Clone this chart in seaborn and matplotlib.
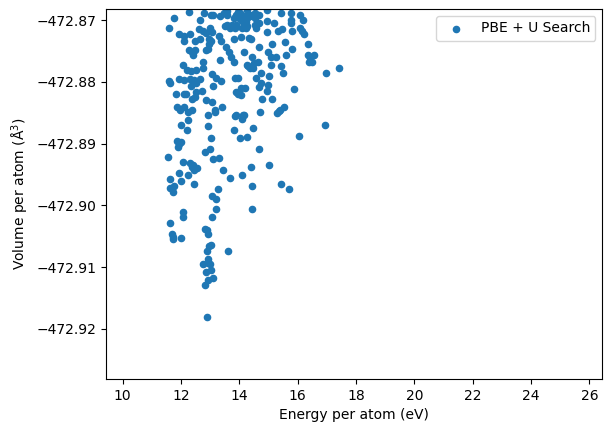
import matplotlib
matplotlib.use("Agg")
import matplotlib.pyplot as plt
import pandas as pd
import seaborn as sns

energy = [12.89,12.82,12.92,13.09,12.85,13.02,12.76,12.99,12.92,12.92,12.89,13.02,12.96,13.61,12.92,12.89,12.82,11.62,11.70,11.72,11.71,12.0,12.07,12.07,13.06,
13.2,14.43,14.43,13.20,13.06,13.26,13.67,14.09,14.39,13.43,13.30,13.09,12.99,12.82,14.67,12.44,12.0,11.62,11.93,11.62,11.76,11.72,11.69,12.24,12.07,12.30,12.37,12.44,12.56,12.40,11.55,11.89,11.86,12.0,11.93,12.20,12.0,12.24,12.92,13.02,12.92,13.16,13.81,13.84,14.12,14.09,14.46,14.02,14.26,
16.93,16.04,15.01,15.42,15.70,15.28,15.35,
17.43,16.96,15.52,15.39,14.70,15.87,15.11,14.77,14.94,14.98,14.74,14.67,15.01,14.56,14.74,15.49,15.42,15.08,14.50,14.26,14.36,14.46,14.63,14.43,15.08,15.25,15.59,14.98,14.67,14.15,15.80,15.56,15.11,16.35,16.35,16.55,16.38,16.48,16.41,16.21,16.14,16.07,15.80,15.46,15.32,14.94,14.39,14.05,14.22,14.56,14.67,14.94,15.18,15.76,16.17,16.07,15.76,15.76,15.42,14.94,14.53,14.53,14.36,14.15,14.09,
12.27,11.76,11.59,11.93,12.10,12.30,12.10,12.48,12.64,12.61,12.64,12.78,13.09,13.33,13.59,13.50,13.67,12.99,12.75,13.06,12.96,13.30,13.37,13.81,12.96,12.92,13.54,13.64,13.71,13.81,13.33,12.27,12.48,12.41,12.07,12.20,12.34,12.51,12.75,12.75,14.29,13.06,13.20,13.37,13.09,11.59,11.62,11.93,12.10,12.30,12.44,12.64,12.34,12.51,11.83,12.10,12.16,12.51,12.71,12.37,12.48,12.85,13.06,13.16,13.40,11.85,12.10,12.37,11.96,12.24,13.84,13.95,13.88,14.05,14.19,13.95,14.05,13.88,14.15,
13.87,13.98,13.87,14.04,14.21,14.33,14.27,13.95,13.75,14.32,
13.01,13.58,13.86,14.09,14.26,14.55,13.81,13.47,12.84,13.01,14.44,14.66,13.58,14.03,14.26,12.84,12.38]

volume = [-472.9181,-472.9129,-472.9120,-472.9118,-472.9107,-472.9104,-472.9095,-472.9095,-472.9087,-472.9094,-472.9073,-472.9064,-472.9065,-472.9073,-472.9047,-472.9040,-472.9038,-472.9029,-472.9046,-472.9055,-472.9051,-472.9052,-472.9019,-472.9010,-472.9019,
-472.9005,-472.9005,-472.8969,-472.8990,-472.8985,-472.8974,-472.8955,-472.8951,-472.8937,-472.8943,-472.8924,-472.8925,-472.8909,-472.8914,-472.8909,-472.8966,-472.8961,-472.8958,-472.8948,-472.8971,-472.8969,-472.8979,-472.8972,-472.8950,-472.8929,-472.8932,-472.8937,-472.8942,-472.8940,-472.8935,-472.8921,-472.8906,-472.8895,-472.8898,-472.8901,-472.8878,-472.8869,-472.8861,-472.8872,-472.8891,-472.8853,-472.8848,-472.8878,-472.8856,-472.8854,-472.8860,-472.8875,-472.8891,-472.8890,
-472.8869,-472.8888,-472.8934,-472.8966,-472.8974,-472.8851,-472.8847,
-472.8777,-472.8785,-472.8840,-472.8845,-472.8848,-472.8812,-472.8828,-472.8827,-472.8815,-472.8805,-472.8802,-472.8809,-472.8791,-472.8794,-472.8785,-472.8785,-472.8775,-472.8772,-472.8770,-472.8773,-472.8778,-472.8778,-472.8768,-472.8759,-472.8759,-472.8759,-472.8757,-472.8751,-472.8744,-472.8751,-472.8746,-472.8736,-472.8738,-472.8739,-472.8757,-472.8757,-472.8767,-472.8767,-472.8762,-472.8723,-472.8717,-472.8712,-472.8718,-472.8715,-472.8718,-472.8720,-472.8730,-472.8728,-472.8713,-472.8712,-472.8705,-472.8702,-472.8704,-472.8704,-472.8700,-472.8692,-472.8689,-472.8699,-472.8689,-472.8684,-472.8689,-472.8697,-472.8694,-472.8694,-472.8713,
-472.8687,-472.8697,-472.8713,-472.8723,-472.8725,-472.8722,-472.8734,-472.8733,-472.8730,-472.8715,-472.8700,-472.8688,-472.8692,-472.8694,-472.8692,-472.8710,-472.8713,-472.8712,-472.8718,-472.8720,-472.8730,-472.8725,-472.8733,-472.8731,-472.8739,-472.8747,-472.8743,-472.8752,-472.8759,-472.8767,-472.8764,-472.8749,-472.8749,-472.8757,-472.8772,-472.8780,-472.8783,-472.8780,-472.8767,-472.8777,-472.8775,-472.8788,-472.8793,-472.8799,-472.8807,-472.8798,-472.8802,-472.8796,-472.8797,-472.8796,-472.8797,-472.8796,-472.8806,-472.8801,-472.8819,-472.8820,-472.8820,-472.8817,-472.8814,-472.8828,-472.8825,-472.8830,-472.8832,-472.8846,-472.8841,-472.8841,-472.8841,-472.8845,-472.8845,-472.8849,-472.8793,-472.8794,-472.8817,-472.8810,-472.8810,-472.8819,-472.8822,-472.8854,-472.8853,
-472.8692,-472.8697,-472.8708,-472.8700,-472.8703,-472.8692,-472.8684,-472.8687,-472.8708,-472.8729,
-472.8691,-472.8708,-472.8713,-472.8702,-472.8710,-472.8708,-472.8697,-472.8689,-472.8721,-472.8734,-472.8691,-472.8691,-472.8686,-472.8689,-472.8697,-472.8748,-472.8751]

n = min(len(energy), len(volume))
df = pd.DataFrame({"Energy per atom (eV)": energy[:n], "Volume per atom": volume[:n]})

fig = plt.figure(figsize=(6.12, 4.32), dpi=100)
ax = fig.add_axes([106.4/612, 53/432, 496/612, 370/432])
sns.scatterplot(data=df, x="Energy per atom (eV)", y="Volume per atom", ax=ax,
                color="#1f77b4", edgecolor="#1f77b4", linewidth=1, s=20,
                label="PBE + U Search")
ax.set_xlim(9.44, 26.445)
ax.set_ylim(-472.9281, -472.8682)
ax.set_xticks([10, 12, 14, 16, 18, 20, 22, 24, 26])
ax.set_yticks([-472.92, -472.91, -472.90, -472.89, -472.88, -472.87])
ax.set_yticklabels(["\u2212472.92", "\u2212472.91", "\u2212472.90", "\u2212472.89", "\u2212472.88", "\u2212472.87"])
ax.set_ylabel("Volume per atom (Å$^3$)")
ax.set_xlabel("Energy per atom (eV)")
ax.legend(loc="upper right")
fig.savefig("out.png", dpi=100)
